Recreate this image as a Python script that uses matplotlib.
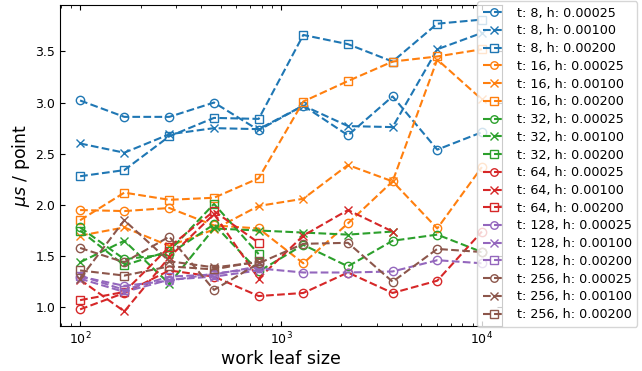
import numpy as np
import matplotlib
matplotlib.use("Agg")
import matplotlib.pyplot as plt

nan = np.nan
leaf_sizes = [100, 166, 278, 464, 774, 1291, 2154, 3593, 5994, 10000]
threads = [8, 16, 32, 64, 128, 256]
hs = ["0.00025", "0.00100", "0.00200"]

t8_h00025 = [3.02, 2.86, 2.86, 3.00, 2.73, 2.97, 2.68, 3.06, 2.54, 2.71]
t8_h00100 = [2.60, 2.51, 2.69, 2.75, 2.74, 2.97, 2.77, 2.76, 3.52, 3.68]
t8_h00200 = [2.28, 2.34, 2.67, 2.85, 2.84, 3.66, 3.57, 3.40, 3.77, 3.81]
t16_h00025 = [1.95, 1.94, 1.97, 1.80, 1.77, 1.43, 1.82, 2.23, 1.77, 2.37]
t16_h00100 = [1.70, 1.78, 1.60, 1.76, 1.99, 2.06, 2.39, 2.23, 3.42, 3.03]
t16_h00200 = [1.85, 2.12, 2.05, 2.07, 2.26, 3.01, 3.21, 3.40, 3.45, 3.52]
t32_h00025 = [1.78, 1.47, 1.52, 1.81, 1.35, 1.61, 1.40, 1.65, 1.71, 1.54]
t32_h00100 = [1.44, 1.65, 1.23, 1.77, 1.75, 1.73, 1.71, 1.74, nan, nan]
t32_h00200 = [1.75, 1.41, 1.55, 2.01, 1.52, nan, nan, nan, nan, nan]
t64_h00025 = [0.98, 1.14, 1.36, 1.30, 1.11, 1.14, 1.34, 1.14, 1.26, 1.74]
t64_h00100 = [1.27, 0.96, 1.49, 1.91, 1.28, 1.70, 1.95, 1.74, nan, nan]
t64_h00200 = [1.07, 1.15, 1.59, 1.94, 1.63, nan, nan, nan, nan, nan]
t128_h00025 = [1.30, 1.21, 1.26, 1.33, 1.38, 1.34, 1.34, 1.35, 1.46, 1.43]
t128_h00100 = [1.28, 1.15, 1.27, 1.30, 1.36, nan, nan, nan, nan, nan]
t128_h00200 = [1.31, 1.17, 1.30, 1.32, 1.40, nan, nan, nan, nan, nan]
t256_h00025 = [1.58, 1.44, 1.69, 1.17, 1.43, 1.62, 1.63, 1.25, 1.57, 1.54]
t256_h00100 = [1.28, 1.85, 1.45, 1.39, 1.44, nan, nan, nan, nan, nan]
t256_h00200 = [1.36, 1.31, 1.40, 1.37, 1.45, nan, nan, nan, nan, nan]

series = [
    [t8_h00025, t8_h00100, t8_h00200],
    [t16_h00025, t16_h00100, t16_h00200],
    [t32_h00025, t32_h00100, t32_h00200],
    [t64_h00025, t64_h00100, t64_h00200],
    [t128_h00025, t128_h00100, t128_h00200],
    [t256_h00025, t256_h00100, t256_h00200],
]

colors = ["#1f77b4", "#ff7f0e", "#2ca02c", "#d62728", "#9467bd", "#8c564b"]
markers = ["o", "x", "s"]

fig = plt.figure(figsize=(6.42, 3.71), dpi=100)
ax = fig.add_axes([60/642, 1-326/371, (502-60)/642, (326-5)/371])

for ti, t in enumerate(threads):
    for hi, h in enumerate(hs):
        m = markers[hi]
        kw = dict(color=colors[ti], linestyle="--", marker=m, markersize=6,
                  label=f"t: {t}, h: {h}")
        if m != "x":
            kw["markerfacecolor"] = "none"
        ax.plot(leaf_sizes, series[ti][hi], **kw)

ax.set_xscale("log")
ax.set_xlabel("work leaf size", fontsize=12.5, labelpad=2)
ax.set_ylabel(r"$\mu s$ / point", fontsize=12.5, labelpad=2)
ax.tick_params(which="both", direction="in", top=True, right=True, labelsize=9)
ax.set_yticks([1.0, 1.5, 2.0, 2.5, 3.0, 3.5])

fig.legend(loc="upper left", bbox_to_anchor=(477/642, 1-1/371), borderaxespad=0,
           fontsize=9.2, labelspacing=0.37, handlelength=1.7, handletextpad=0.95,
           borderpad=0.45, markerscale=0.9)

fig.savefig("out.png", dpi=100)
